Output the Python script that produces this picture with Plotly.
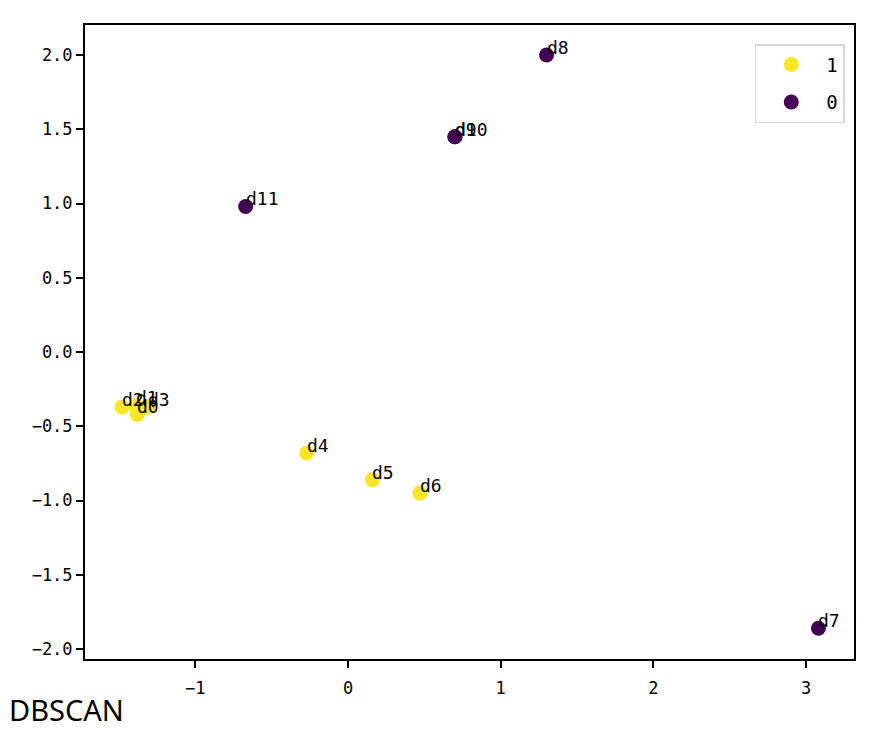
import plotly.graph_objects as go

names = ["d0", "d1", "d2", "d3", "d4", "d5", "d6", "d7", "d8", "d9", "d10", "d11"]
xs = [-1.38, -1.39, -1.48, -1.31, -0.27, 0.16, 0.47, 3.08, 1.30, 0.70, 0.70, -0.67]
ys = [-0.42, -0.36, -0.37, -0.37, -0.68, -0.86, -0.95, -1.86, 2.00, 1.45, 1.45, 0.98]
labels = [1, 1, 1, 1, 1, 1, 1, 0, 0, 0, 0, 0]
legend_order = [1, 0]
colors = {1: "#fde725", 0: "#440154"}
x_ticks = [-1, 0, 1, 2, 3]
y_ticks = [2.0, 1.5, 1.0, 0.5, 0.0, -0.5, -1.0, -1.5, -2.0]
title_text = "DBSCAN"

mono = "DejaVu Sans Mono, Liberation Mono, monospace"
tick_font = dict(family=mono, size=17, color="black")
label_font = dict(family=mono, size=18, color="black")

fig = go.Figure()
for lab in legend_order:
    idx = [i for i, l in enumerate(labels) if l == lab]
    fig.add_trace(go.Scatter(
        x=[xs[i] for i in idx], y=[ys[i] for i in idx],
        mode="markers", name=str(lab), legendgroup=str(lab),
        marker=dict(color=colors[lab], size=15, line=dict(width=0)),
    ))

for n, x, y in zip(names, xs, ys):
    fig.add_annotation(x=x, y=y, text=n, showarrow=False, xanchor="left", yanchor="bottom",
                       xshift=-1, yshift=-4, borderpad=0, font=label_font)

fig.add_annotation(x=0, y=0, xref="paper", yref="paper", text=title_text, showarrow=False,
                   xanchor="left", yanchor="bottom", xshift=-78, yshift=-72,
                   font=dict(family="Noto Sans, Open Sans", size=29, color="black"))

axis_common = dict(showgrid=False, zeroline=False, showline=True, linecolor="black", linewidth=2,
                   mirror=True, ticks="outside", ticklen=7, tickwidth=1.5, tickcolor="black",
                   tickfont=tick_font)
fig.update_xaxes(range=[-1.722, 3.313], tickvals=x_ticks,
                 ticktext=[str(t).replace("-", "\u2212") for t in x_ticks],
                 ticklabelstandoff=6, **axis_common)
fig.update_yaxes(range=[-2.067, 2.202], tickvals=y_ticks,
                 ticktext=[f"{t:.1f}".replace("-", "\u2212") for t in y_ticks], **axis_common)

fig.update_layout(
    width=876, height=733,
    margin=dict(l=77, r=30, t=17, b=82),
    plot_bgcolor="white", paper_bgcolor="white",
    legend=dict(x=0.988, y=0.97, xanchor="right", yanchor="top",
                bgcolor="white", bordercolor="#d9d9d9", borderwidth=1.5,
                font=dict(family=mono, size=19, color="black"),
                itemwidth=60, tracegroupgap=10, traceorder="grouped"),
)
fig.write_html("out.html")
